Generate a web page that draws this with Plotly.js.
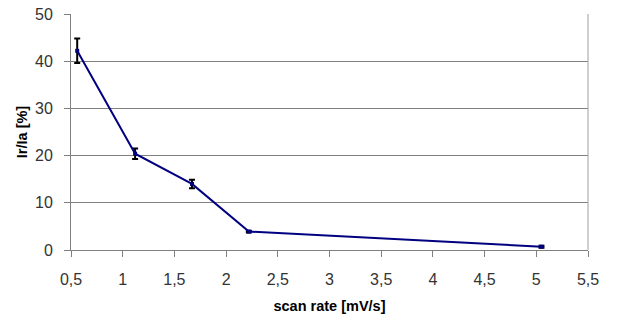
<!DOCTYPE html>
<html><head><meta charset="utf-8">
<script src="https://cdn.plot.ly/plotly-3.0.1.min.js"></script>
<style>html,body{margin:0;padding:0;background:#fff}#c{width:617px;height:326px}</style>
</head><body><div id="c"></div>
<script>
const scanRate = [0.56, 1.12, 1.67, 2.22, 5.05];
const ratio = [42.2, 20.4, 14.0, 3.9, 0.7];
const errors = [2.6, 1.1, 0.9, 0.2, 0.2];
const xTicks = [0.5,1,1.5,2,2.5,3,3.5,4,4.5,5,5.5];
const xTickLabels = ["0,5","1","1,5","2","2,5","3","3,5","4","4,5","5","5,5"];
const yTicks = [0,10,20,30,40,50];

Plotly.newPlot('c', [{
  x: scanRate, y: ratio, type: 'scatter', mode: 'lines+markers',
  line: {color: '#000080', width: 2},
  marker: {color: '#000080', size: 4, symbol: 'square'},
  error_y: {type: 'data', array: errors, visible: true, color: '#000000', thickness: 2, width: 3}
}], {
  width: 617, height: 326,
  margin: {l: 71, r: 29, t: 14, b: 76},
  paper_bgcolor: '#fff', plot_bgcolor: '#fff',
  showlegend: false,
  font: {family: 'Liberation Sans, Arial, sans-serif', color: '#000'},
  xaxis: {range: [0.5, 5.5], tickvals: xTicks, ticktext: xTickLabels,
    showgrid: false, zeroline: false, showline: true, linecolor: '#808080', linewidth: 1,
    ticks: 'outside', ticklen: 6, tickcolor: '#808080', ticklabelstandoff: 9,
    tickfont: {size: 16, color: '#333'},
    title: {text: '<b>scan rate [mV/s]</b>', font: {size: 14.5}, standoff: 13}},
  yaxis: {range: [0, 50], tickvals: yTicks, showgrid: true, gridcolor: '#808080', gridwidth: 1,
    zeroline: false, showline: true, linecolor: '#808080', linewidth: 1,
    ticks: 'outside', ticklen: 6, tickcolor: '#808080', ticklabelstandoff: 8,
    tickfont: {size: 16, color: '#333'},
    title: {text: '<b>Ir/Ia [%]</b>', font: {size: 14.5}, standoff: 3}},
  shapes: [{type: 'line', xref: 'paper', yref: 'paper', x0: 1, x1: 1, y0: 0, y1: 1,
    line: {color: '#a0a0a0', width: 1}}]
}, {staticPlot: true});
</script></body></html>
